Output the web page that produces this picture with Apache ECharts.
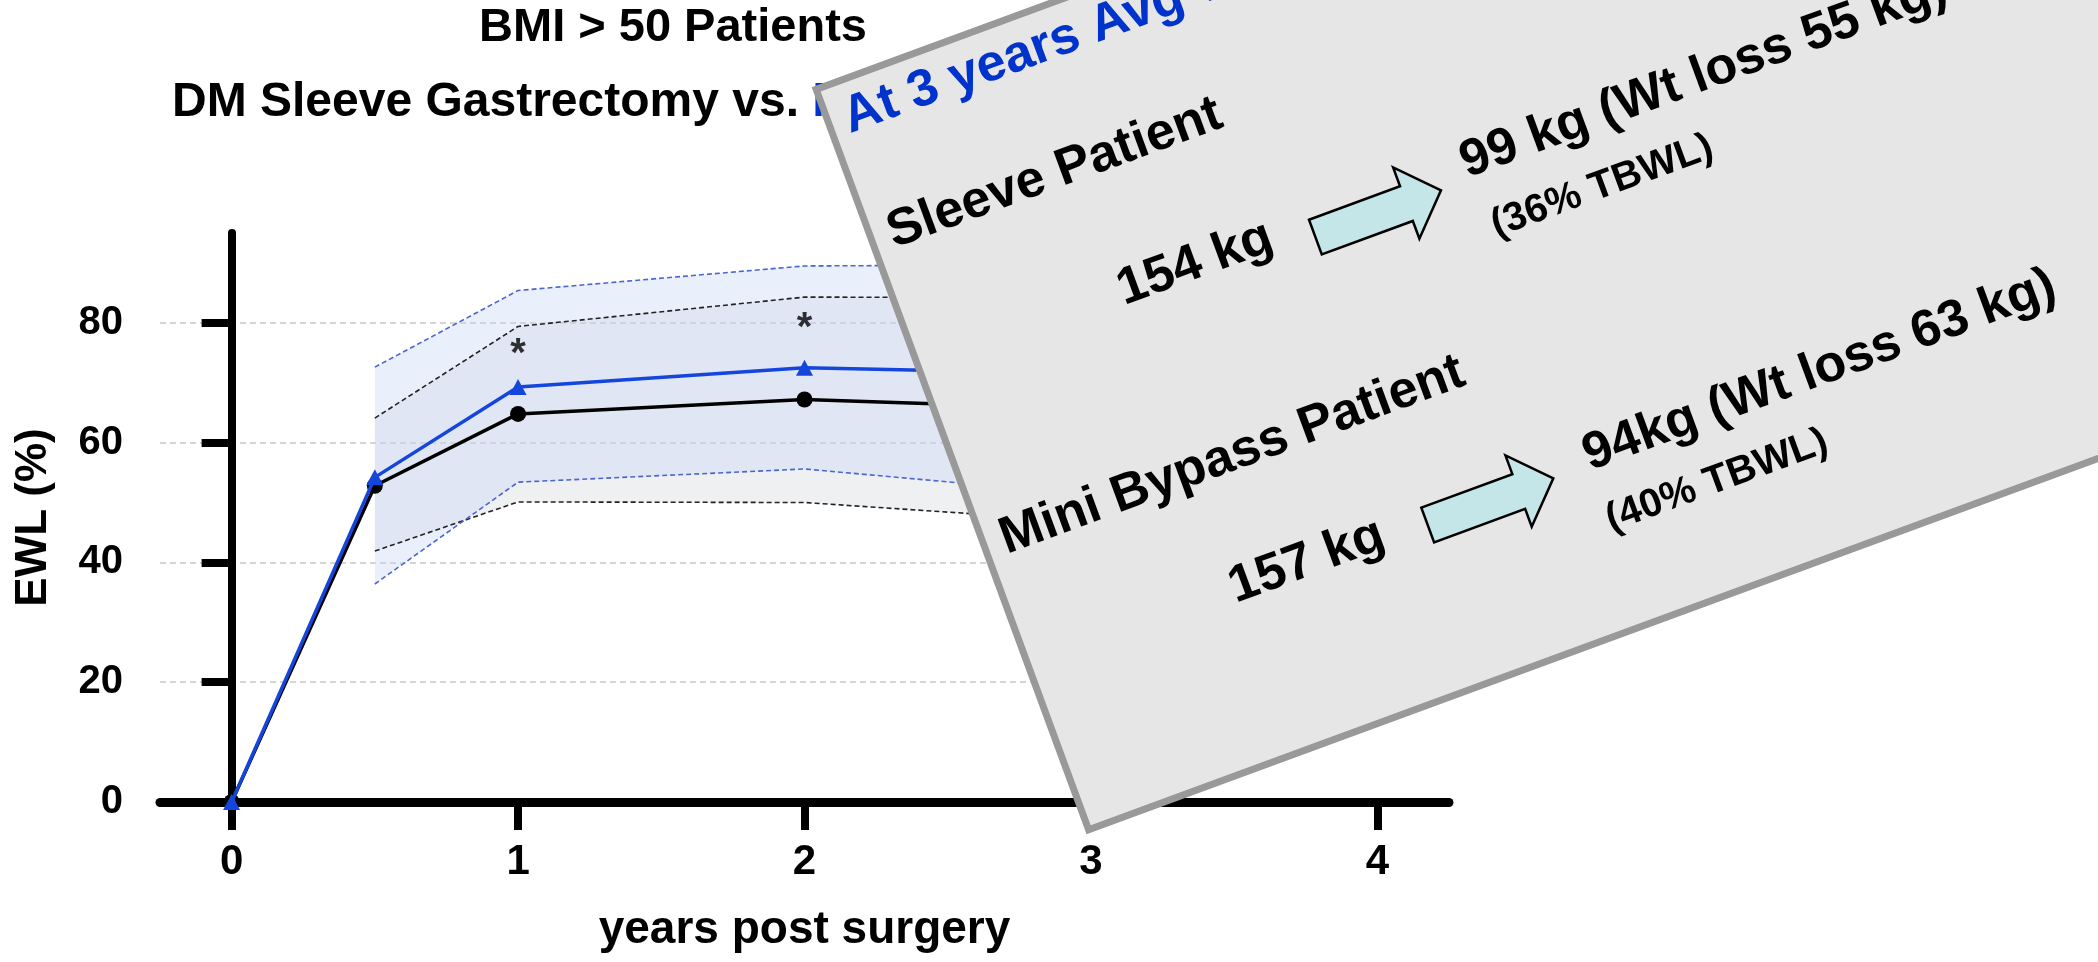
<!DOCTYPE html>
<html>
<head>
<meta charset="utf-8">
<script src="https://cdn.jsdelivr.net/npm/echarts@6/dist/echarts.min.js"></script>
<style>
  html, body { margin: 0; padding: 0; background: #fff; }
  #chart { width: 2098px; height: 962px; }
</style>
</head>
<body>
<div id="chart"></div>
<script>
// ---- data ----
const years        = [0, 0.5, 1, 2, 3];
const sleeveEWL    = [0, 52.8, 64.8, 67.2, 65.6];
const bypassEWL    = [0, 54.2, 69.3, 72.5, 71.5];
const sleeveUpper  = [null, 64.1, 79.4, 84.3, 84.2];
const sleeveLower  = [null, 41.9, 50.1, 50.0, 46.8];
const bypassUpper  = [null, 72.6, 85.4, 89.5, 89.7];
const bypassLower  = [null, 36.4, 53.4, 55.6, 51.3];
const starYears    = [1, 2];
const starValues   = [76.1, 80.5];
const xTicks       = [0, 1, 2, 3, 4];
const yTicks       = [0, 20, 40, 60, 80];

const titleLine1 = 'BMI > 50 Patients';
const titleLine2a = 'DM Sleeve Gastrectomy vs. ';
const titleLine2b = 'Mini Bypass';
const xName = 'years post surgery';
const yName = 'EWL (%)';

const FONT = '"Liberation Sans", Arial, Helvetica, sans-serif';
const BLUE = '#1446DC';

function pairs(xs, ys) {
  const out = [];
  xs.forEach((x, i) => { if (ys[i] !== null && ys[i] !== undefined) out.push([x, ys[i]]); });
  return out;
}

const chart = echarts.init(document.getElementById('chart'), null, { renderer: 'canvas' });

function bandRender(params, api) {
  function poly(up, lo, fill) {
    const pts = [];
    years.forEach((x, i) => { if (up[i] !== null) pts.push(api.coord([x, up[i]])); });
    for (let i = years.length - 1; i >= 0; i--) { if (lo[i] !== null) pts.push(api.coord([years[i], lo[i]])); }
    return { type: 'polygon', shape: { points: pts }, style: { fill: fill } };
  }
  return {
    type: 'group',
    children: [
      poly(sleeveUpper, sleeveLower, 'rgba(205,208,214,0.32)'),
      poly(bypassUpper, bypassLower, 'rgba(196,214,244,0.36)')
    ]
  };
}

// overlay card (local coords inside a rotated group)
const cardTexts = [
  { t: 'At 3 years Avg Weight', x: 20, y: 42, fs: 52, c: '#0033CC' },
  { t: 'Sleeve Patient', x: 22, y: 165, fs: 52, c: '#000' },
  { t: '154 kg', x: 218, y: 298, fs: 52, c: '#000' },
  { t: '99 kg (Wt loss 55 kg)', x: 584, y: 297, fs: 52, c: '#000' },
  { t: '(36% TBWL)', x: 591, y: 366, fs: 40, c: '#000' },
  { t: 'Mini Bypass Patient', x: 22, y: 491, fs: 52, c: '#000' },
  { t: '157 kg', x: 220, y: 616, fs: 52, c: '#000' },
  { t: '94kg (Wt loss 63 kg)', x: 598, y: 614, fs: 52, c: '#000' },
  { t: '(40% TBWL)', x: 597, y: 682, fs: 40, c: '#000' }
];
function arrowPts(dx, dy) {
  return [[421, 296], [518, 296], [518, 276], [555, 314], [518, 352], [518, 333], [421, 333]]
    .map(p => [p[0] + dx, p[1] + dy]);
}
const cardChildren = [
  { type: 'rect', z: 100, shape: { x: 3.5, y: 3.5, width: 1800, height: 789 },
    style: { fill: '#E6E6E6', stroke: '#999999', lineWidth: 7 } },
  { type: 'polygon', z: 101, shape: { points: arrowPts(0, 0) },
    style: { fill: '#C4E6E8', stroke: '#000', lineWidth: 2.5, lineJoin: 'miter' } },
  { type: 'polygon', z: 101, shape: { points: arrowPts(6, 309) },
    style: { fill: '#C4E6E8', stroke: '#000', lineWidth: 2.5, lineJoin: 'miter' } }
].concat(cardTexts.map(d => ({
  type: 'text', z: 102, x: d.x, y: d.y,
  style: { text: d.t, fill: d.c, fontSize: d.fs, fontWeight: 'bold', fontFamily: FONT,
           align: 'left', verticalAlign: 'middle' }
})));

const option = {
  animation: false,
  backgroundColor: '#ffffff',
  title: [
    { text: titleLine1, left: 673, top: 5, textAlign: 'center', padding: 0,
      textStyle: { fontSize: 47, fontWeight: 'bold', fontFamily: FONT, color: '#000', lineHeight: 47 } },
    { text: '{a|' + titleLine2a + '}{b|' + titleLine2b + '}', left: 172, top: 79, padding: 0,
      textStyle: { fontSize: 48, fontWeight: 'bold', fontFamily: FONT, color: '#000', lineHeight: 48,
        rich: {
          a: { fontSize: 48, fontWeight: 'bold', fontFamily: FONT, color: '#000', lineHeight: 48 },
          b: { fontSize: 48, fontWeight: 'bold', fontFamily: FONT, color: '#0033CC', lineHeight: 48 }
        } } }
  ],
  grid: { left: 160, right: 649, top: 233, bottom: 160, containLabel: false },
  xAxis: {
    type: 'value', min: -0.25, max: 4.25,
    name: xName, nameLocation: 'middle', nameGap: 105,
    nameTextStyle: { fontSize: 46, fontWeight: 'bold', fontFamily: FONT, color: '#000' },
    axisLine: { show: true, onZero: false, lineStyle: { color: '#000', width: 9 } },
    axisTick: { show: true, length: 28, customValues: xTicks, lineStyle: { color: '#000', width: 8 } },
    axisLabel: { customValues: xTicks, margin: 39, fontSize: 42, fontWeight: 'bold', fontFamily: FONT, color: '#000' },
    splitLine: { show: false }
  },
  yAxis: {
    type: 'value', min: 0, max: 95, interval: 20,
    name: yName, nameLocation: 'middle', nameGap: 104, nameRotate: 90,
    nameTextStyle: { fontSize: 44, fontWeight: 'bold', fontFamily: FONT, color: '#000' },
    axisLine: { show: true, lineStyle: { color: '#000', width: 8 } },
    axisTick: { show: true, length: 30, customValues: yTicks, lineStyle: { color: '#000', width: 8 } },
    axisLabel: { customValues: yTicks, margin: 37, fontSize: 40, fontWeight: 'bold', fontFamily: FONT, color: '#000' },
    splitLine: { show: true, lineStyle: { color: '#C8C8C8', width: 1.5, type: [6, 4] } }
  },
  series: [
    { type: 'custom', name: 'bands', z: 1, silent: true, renderItem: bandRender, data: [[0.5, 50]] },
    { type: 'line', name: 'Sleeve upper', z: 2, data: pairs(years, sleeveUpper), symbol: 'none',
      lineStyle: { color: '#222', width: 1.6, type: [5, 3] } },
    { type: 'line', name: 'Sleeve lower', z: 2, data: pairs(years, sleeveLower), symbol: 'none',
      lineStyle: { color: '#222', width: 1.6, type: [5, 3] } },
    { type: 'line', name: 'Bypass upper', z: 2, data: pairs(years, bypassUpper), symbol: 'none',
      lineStyle: { color: '#4A66D0', width: 1.6, type: [5, 3] } },
    { type: 'line', name: 'Bypass lower', z: 2, data: pairs(years, bypassLower), symbol: 'none',
      lineStyle: { color: '#4A66D0', width: 1.6, type: [5, 3] } },
    { type: 'line', name: 'Sleeve', z: 3, data: pairs(years, sleeveEWL), symbol: 'circle', symbolSize: 16,
      itemStyle: { color: '#000' }, lineStyle: { color: '#000', width: 3.5 } },
    { type: 'line', name: 'Mini Bypass', z: 4, data: pairs(years, bypassEWL), symbol: 'triangle', symbolSize: [17, 16],
      itemStyle: { color: BLUE }, lineStyle: { color: BLUE, width: 3.5 } },
    { type: 'scatter', name: 'significance', z: 5, data: pairs(starYears, starValues), symbolSize: 1,
      itemStyle: { color: 'rgba(0,0,0,0)' },
      label: { show: true, position: 'inside', formatter: '*', offset: [0, 9],
               fontSize: 40, fontWeight: 'bold', fontFamily: FONT, color: '#000' } }
  ],
  graphic: [
    { type: 'group', x: 811.7, y: 87.3, rotation: 20.2 * Math.PI / 180, z: 100, children: cardChildren }
  ]
};
chart.setOption(option);
</script>
</body>
</html>
